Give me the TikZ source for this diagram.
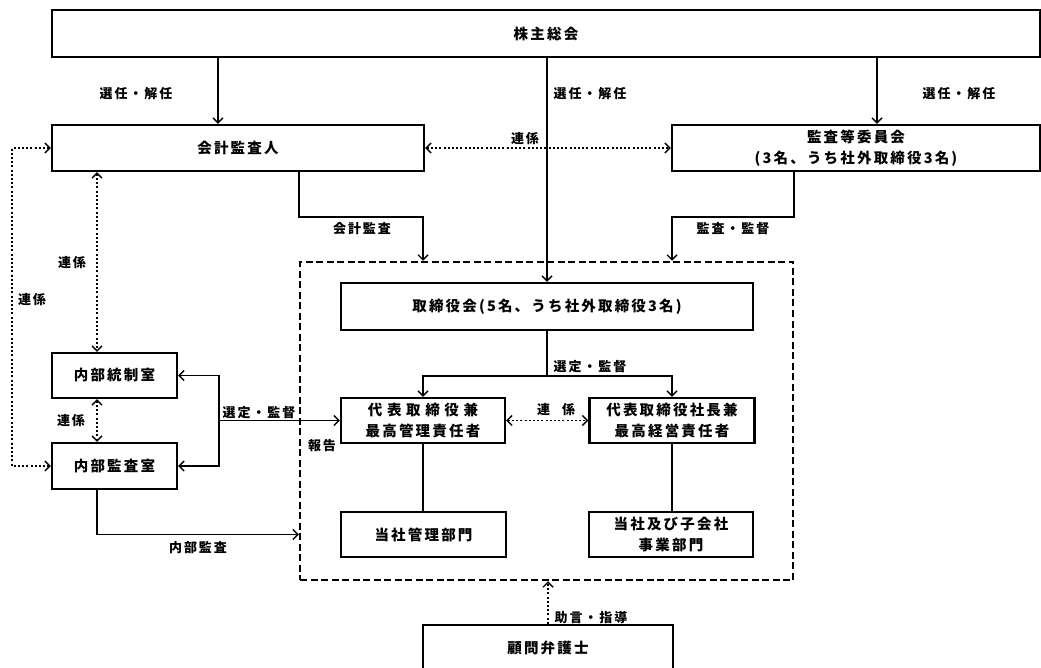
\documentclass[tikz,border=0pt]{standalone}
\usepackage{fontspec}
\setmainfont{Noto Sans CJK JP}[LetterSpace=15]
\usetikzlibrary{arrows.meta}

\newcommand\bxfont{\bfseries\fontsize{14.5}{21}\selectfont}
\newcommand\lbfont{\bfseries\fontsize{13}{16}\selectfont}

\tikzset{
  barb/.tip={Straight Barb[length=5pt,width=10pt,line width=1.4pt]},
  box/.style={draw, line width=2.3pt, fill=white, inner sep=0pt, align=center, font=\bxfont},
  lbl/.style={font=\lbfont, inner sep=0pt},
  conn/.style={line width=1.7pt},
  arr/.style={conn, -barb},
  darr/.style={conn, barb-barb},
  dots/.style={line width=1.7pt, dash pattern=on 2pt off 2.2pt},
  grpbox/.style={draw, line width=2.5pt, dash pattern=on 7pt off 3.5pt, inner sep=0pt}
}

\begin{document}
\begin{tikzpicture}[x=1pt,y=-1pt]
\fill[white] (0,0) rectangle (1041,668);
\useasboundingbox (0,0) rectangle (1041,668);
\clip (0,0) rectangle (1041,668);

% executive group frame
\node[grpbox, minimum width=493pt, minimum height=318pt] (grp) at (546.5,421) {};

% boxes
\node[box, minimum width=988pt, minimum height=47pt] (gsm) at (546,33.5) {株主総会};
\node[box, minimum width=372pt, minimum height=46pt] (aud) at (238,148) {会計監査人};
\node[box, minimum width=368pt, minimum height=46pt] (ac) at (856,148) {監査等委員会\\(3名、うち社外取締役3名)};
\node[box, minimum width=412pt, minimum height=47pt] (board) at (547,306.5) {取締役会(5名、うち社外取締役3名)};
\node[box, minimum width=164pt, minimum height=45pt] (rep1) at (423,420.5) {{\addfontfeature{LetterSpace=32}代表取締役兼}\\最高管理責任者};
\node[box, minimum width=165pt, minimum height=45pt] (rep2) at (672,420.5) {代表取締役社長兼\\最高経営責任者};
\node[box, minimum width=165pt, minimum height=45pt] (mgmt) at (423.5,534.5) {当社管理部門};
\node[box, minimum width=164pt, minimum height=45pt] (biz) at (671,534.5) {当社及び子会社\\事業部門};
\node[box, minimum width=125pt, minimum height=45pt] (ic) at (114.5,375.5) {内部統制室};
\node[box, minimum width=125pt, minimum height=46pt] (ia) at (114.5,466) {内部監査室};
\node[box, minimum width=250pt, minimum height=46pt] (counsel) at (548,648) {顧問弁護士};

% column positions of vertical connectors
\coordinate (cA) at (218,0);
\coordinate (cC) at (877,0);
\coordinate (cL) at (97,0);
\coordinate (cO) at (12,0);
\coordinate (cH) at (219,0);

% shareholders' meeting appoints / dismisses
\draw[arr] (gsm.south -| cA) -- (aud.north -| cA);
\draw[arr] (gsm.south -| board.north) -- (board.north);
\draw[arr] (gsm.south -| cC) -- (ac.north -| cC);

% cooperation between auditor and audit committee
\draw[dots, darr] (aud.east) -- (ac.west);

% accounting audit / audit and supervision
\draw[arr] (aud.south -| grp.west) -- ++(0,45) -| (grp.north -| rep1);
\draw[arr] (ac.south -| grp.east) -- ++(0,45) -| (grp.north -| rep2);

% board selects representatives
\draw[conn] (board.south) -- ++(0,45) coordinate (split);
\draw[arr] (split) -| (rep1.north);
\draw[arr] (split) -| (rep2.north);
\draw[dots, darr] (rep1.east) -- (rep2.west);
\draw[conn] (rep1.south) -- (rep1.south |- mgmt.north);
\draw[conn] (rep2.south) -- (rep2.south |- biz.north);

% internal control / internal audit offices
\draw[darr] (ic.east) -| (cH |- ia.east) -- (ia.east);
\draw[arr] (cH |- rep1.west) -- (rep1.west);
\draw[dots, darr] (aud.south -| cL) -- (ic.north -| cL);
\draw[dots, darr] (ic.south -| cL) -- (ia.north -| cL);
\draw[dots, darr] (aud.west) -| (cO |- ia.west) -- (ia.west);
\draw[arr] (ia.south -| cL) |- (grp.west |- mgmt);

% legal counsel
\draw[dots, arr] (counsel.north) -- (grp.south -| counsel.north);

% connector labels
\node[lbl] (l1) at (136,94) {選任・解任};
\node[lbl] (l2) at (590,94) {選任・解任};
\node[lbl] (l3) at (959,94) {選任・解任};
\node[lbl] (l4) at (525,139) {連係};
\node[lbl] (l5) at (362,229) {会計監査};
\node[lbl] (l6) at (733,229) {監査・監督};
\node[lbl] (l7) at (590,367) {選定・監督};
\node[lbl] (l8) at (556,410) {連\hspace{12pt}係};
\node[lbl] (l9) at (322,446) {報告};
\node[lbl] (l10) at (259,413) {選定・監督};
\node[lbl] (l11) at (72,263) {連係};
\node[lbl] (l12) at (32,300) {連係};
\node[lbl] (l13) at (71,421) {連係};
\node[lbl] (l14) at (198,548) {内部監査};
\node[lbl] (l15) at (591,618) {助言・指導};
\end{tikzpicture}
\end{document}
